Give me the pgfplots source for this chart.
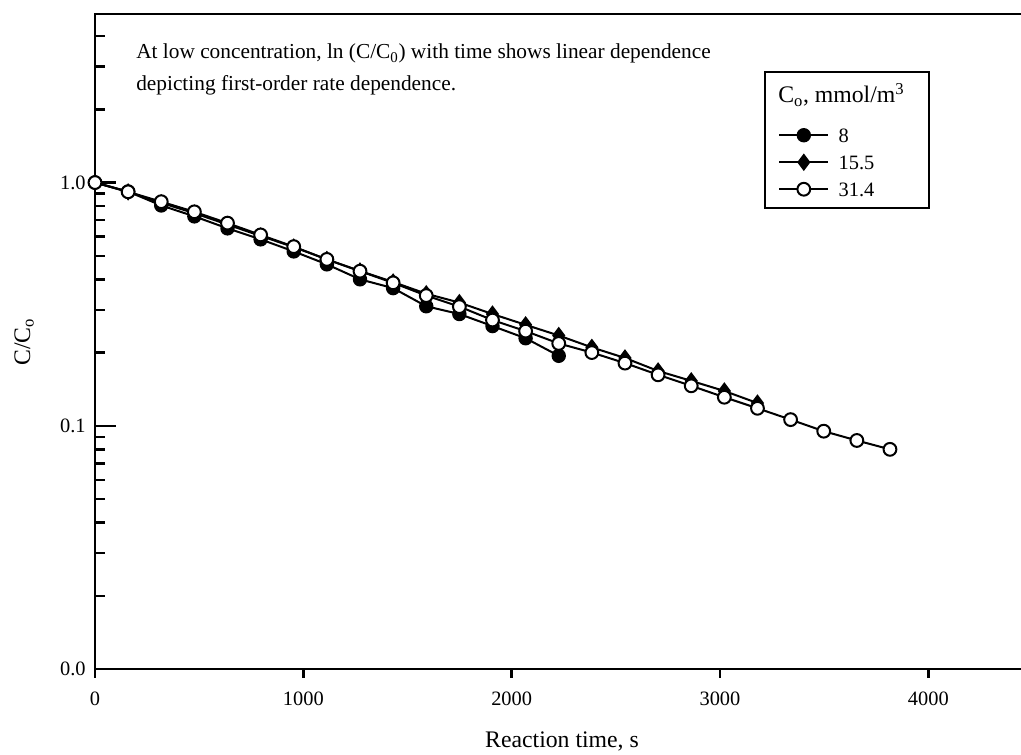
\documentclass[border=0pt]{standalone}
\usepackage{fontspec}
\setmainfont{Liberation Serif}
\usepackage{pgfplots}
\pgfplotsset{compat=1.18}
\usepackage{pgfplotstable}

% page coordinates: 1 unit = 0.75pt, y measured downwards from the top edge
\newcommand{\px}[2]{({#1*0.75pt},{-#2*0.75pt})}

% C/C0 against reaction time (s) for three initial concentrations
\pgfplotstableread{
t c
0    1.000
159  0.918
318  0.805
477  0.726
636  0.648
795  0.584
954  0.521
1113 0.461
1272 0.400
1431 0.368
1590 0.310
1749 0.288
1908 0.257
2067 0.229
2226 0.194
}\cEight

\pgfplotstableread{
t c
0    1.000
159  0.915
318  0.825
477  0.748
636  0.672
795  0.603
954  0.543
1113 0.483
1272 0.433
1431 0.390
1590 0.349
1749 0.321
1908 0.288
2067 0.260
2226 0.235
2385 0.210
2544 0.190
2703 0.168
2862 0.153
3021 0.139
3180 0.124
}\cFifteen

\pgfplotstableread{
t c
0    1.000
159  0.916
318  0.834
477  0.758
636  0.681
795  0.609
954  0.545
1113 0.483
1272 0.432
1431 0.387
1590 0.343
1749 0.309
1908 0.272
2067 0.245
2226 0.218
2385 0.200
2544 0.181
2703 0.162
2862 0.146
3021 0.131
3180 0.118
3339 0.106
3498 0.095
3657 0.087
3816 0.080
}\cThirtyOne

\begin{document}
\begin{tikzpicture}
\useasboundingbox (0,0) rectangle (765.75pt,-566.25pt);
\begin{axis}[
  at={(71.25pt,-501.75pt)}, anchor=south west,
  scale only axis, width=694.5pt, height=491.25pt,
  xmin=0, xmax=4445,
  ymode=log, ymin=0.01, ymax=4.93,
  clip=false,
  axis line style={draw=none},
  xtick={0,1000,2000,3000,4000},
  xtick pos=left,
  xtick style={draw=none},
  scaled x ticks=false,
  ytick={0.01,0.1,1},
  yticklabels={0.0,0.1,1.0},
  minor ytick={0.02,0.03,0.04,0.05,0.06,0.07,0.08,0.09,0.2,0.3,0.4,0.5,0.6,0.7,0.8,0.9,2,3,4},
  ytick pos=left,
  tick align=inside,
  major tick length=15.75pt,
  minor tick length=7.5pt,
  every tick/.style={line width=1.8pt, black},
  every minor tick/.style={line width=1.8pt, black},
  /pgf/number format/assume math mode=true,
  /pgf/number format/1000 sep={},
  tick label style={font=\fontsize{15.3}{18}\selectfont, black},
  yticklabel style={xshift=-3.5pt},
  xticklabel style={yshift=-14pt},
  legend style={at={(axis description cs:0.7376,0.826)}, anchor=north west,
    draw=none, fill=none, inner sep=0pt, row sep=9.4pt,
    font=\fontsize{15.3}{18}\selectfont,
    nodes={inner sep=0pt, text height=10.5pt, text depth=0pt},
    /tikz/every odd column/.append style={column sep=7pt}},
  legend cell align=left,
  legend image code/.code={
    \draw[#1, mark repeat=2, mark phase=2]
      plot coordinates {(0pt,0pt) (18.4pt,0pt) (36.8pt,0pt)};
  },
]
\addplot[black, line width=1.5pt, mark=*, mark size=4.8pt,
  mark options={fill=black, line width=1.2pt}] table {\cEight};
\addlegendentry{8}
\addplot[black, line width=1.5pt, mark=diamond*, mark size=5.6pt,
  mark options={fill=black, line width=1.2pt}] table {\cFifteen};
\addlegendentry{15.5}
\addplot[black, line width=1.5pt, mark=*, mark size=4.8pt,
  mark options={fill=white, line width=1.5pt}] table {\cThirtyOne};
\addlegendentry{31.4}

% frame: left, top and bottom lines only
\draw[line width=1.8pt] (rel axis cs:1,1) -- (rel axis cs:0,1)
  -- (rel axis cs:0,0) -- (rel axis cs:1,0);
% outward ticks on the time axis
\pgfplotsinvokeforeach{0,1000,2000,3000,4000}{
  \draw[line width=1.8pt] (axis cs:#1,0.01) -- ++(0pt,-6.75pt);
}
\end{axis}

% axis titles
\node[rotate=90, font=\fontsize{17.8}{20}\selectfont] at \px{24}{342} {C/C\textsubscript{o}};
\node[anchor=base, font=\fontsize{17.8}{20}\selectfont] at \px{562}{747} {Reaction time, s};

% note
\node[anchor=base west, inner sep=0pt, font=\fontsize{16}{19}\selectfont] at \px{136}{59}
  {At low concentration, ln (C/C\textsubscript{0}) with time shows linear dependence};
\node[anchor=base west, inner sep=0pt, font=\fontsize{16}{19}\selectfont] at \px{136}{91}
  {depicting first-order rate dependence.};

% legend frame and heading
\draw[line width=1.3pt] \px{765}{72} rectangle \px{929}{208};
\node[anchor=base west, inner sep=0pt, font=\fontsize{17.8}{20}\selectfont] at \px{778}{103}
  {C\textsubscript{o}, mmol/m\textsuperscript{3}};
\end{tikzpicture}
\end{document}
